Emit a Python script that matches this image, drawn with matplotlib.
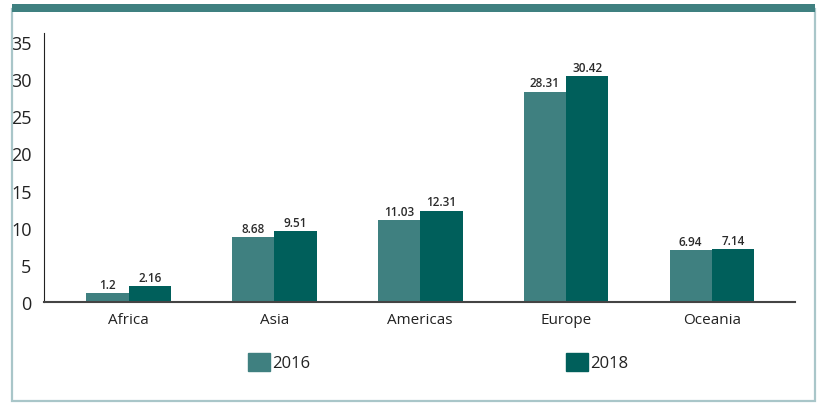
import numpy as np
import matplotlib.pyplot as plt
from matplotlib.patches import Rectangle, Patch

regions = ["Africa", "Asia", "Americas", "Europe", "Oceania"]
vals_2016 = [1.2, 8.68, 11.03, 28.31, 6.94]
vals_2018 = [2.16, 9.51, 12.31, 30.42, 7.14]
labels_2016 = ["1.2", "8.68", "11.03", "28.31", "6.94"]
labels_2018 = ["2.16", "9.51", "12.31", "30.42", "7.14"]

c16 = "#3f8080"
c18 = "#005f5b"

plt.rcParams['font.family'] = ['Open Sans', 'DejaVu Sans']

fig = plt.figure(figsize=(8.26, 4.10), dpi=100)
W, H = 826, 410

# frame
fig.patches.append(Rectangle((12 / W, 1 - 402 / H), (815 - 12) / W, (402 - 10) / H,
                             transform=fig.transFigure, fill=False,
                             edgecolor="#a9c6c9", linewidth=1.6))
fig.patches.append(Rectangle((12 / W, 1 - 13 / H), (815 - 12) / W, 8 / H,
                             transform=fig.transFigure, facecolor="#3f8080",
                             edgecolor="none"))

ax = fig.add_axes([44 / W, 107 / H, (795 - 44) / W, (303 - 34) / H])
x = np.arange(len(regions))
w = 0.29
b1 = ax.bar(x - w / 2, vals_2016, w, color=c16)
b2 = ax.bar(x + w / 2, vals_2018, w, color=c18)

for rect, lab in zip(b1, labels_2016):
    ax.text(rect.get_x() + rect.get_width() / 2, rect.get_height() + 0.3, lab,
            ha="center", va="bottom", fontsize=8.5, fontweight="semibold", color="#2a2a2a")
for rect, lab in zip(b2, labels_2018):
    ax.text(rect.get_x() + rect.get_width() / 2, rect.get_height() + 0.3, lab,
            ha="center", va="bottom", fontsize=8.5, fontweight="semibold", color="#2a2a2a")

ax.set_xlim(-0.58, 4.57)
ax.set_ylim(0, 36.2)
ax.set_yticks(range(0, 36, 5))
ax.set_xticks(x)
ax.set_xticklabels(regions)
ax.tick_params(axis="y", length=0, pad=9, labelsize=13, labelcolor="#222222")
ax.tick_params(axis="x", length=0, pad=7, labelsize=11, labelcolor="#222222")
for s in ["top", "right"]:
    ax.spines[s].set_visible(False)
ax.spines["left"].set_color("#222222")
ax.spines["bottom"].set_color("#444444")
ax.spines["bottom"].set_linewidth(1.5)

handles = [Patch(color=c16, label="2016"), Patch(color=c18, label="2018")]
fig.legend(handles=handles, loc="center left", bbox_to_anchor=(233 / W, 1 - 363 / H),
           ncol=2, frameon=False, fontsize=12, handlelength=1.3, handleheight=1.3,
           handletextpad=0.15, columnspacing=15.36, labelcolor="#222222")

fig.savefig("out.png", dpi=100)
